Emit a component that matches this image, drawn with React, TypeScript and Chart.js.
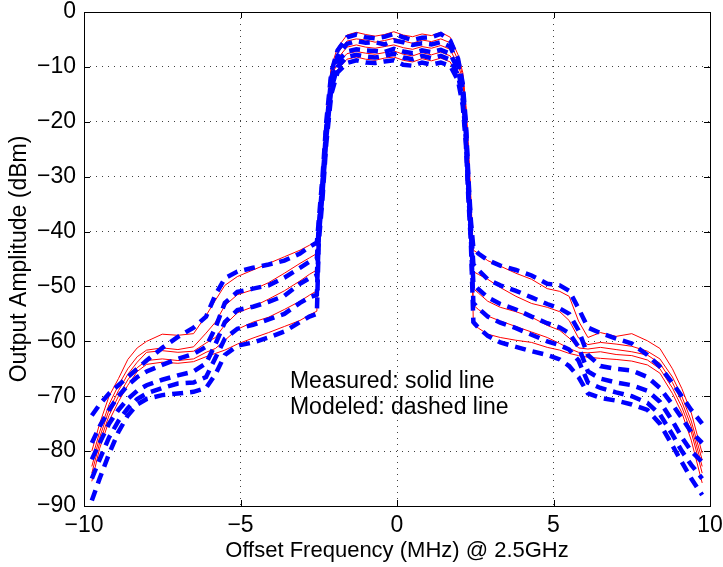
import React, { useEffect, useRef } from 'react';
import { Chart, registerables } from 'chart.js';

Chart.register(...registerables);

// Offset frequency samples (MHz)
const FREQ = [
  -9.75, -9.5, -9.2, -8.9, -8.6, -8.3, -8.0, -7.5, -7.0, -6.5,
  -6.1, -5.8, -5.5, -5.1, -4.6, -4.1, -3.6, -3.1, -2.8, -2.56,
  -2.5, -2.38, -2.26, -2.1,
  -1.9, -1.6, -1.3, -1.0, -0.7, -0.4, -0.1, 0.2, 0.5, 0.8, 1.1, 1.4, 1.7, 1.95,
  2.1, 2.2, 2.28, 2.36, 2.44,
  2.6, 2.9, 3.3, 3.8, 4.3, 4.8, 5.2, 5.5, 5.8, 6.1,
  6.5, 7.0, 7.5, 8.0, 8.4, 8.8, 9.1, 9.4, 9.75,
];

// Modeled (dashed) output amplitude, dBm
const MODEL_1 = [
  -73.5, -71.5, -69.5, -68, -66.5, -65, -63.5, -61.2, -59.2, -57.5,
  -55.5, -51.5, -48.5, -47.3, -46.6, -46, -45.3, -44, -42.8, -42,
  -38, -30, -20, -11,
  -7.0, -4.6, -4.1, -4.6, -4.8, -4.5, -4.0, -4.6, -5.1, -4.7, -4.6, -4.0, -5.2, -8.5,
  -13, -20, -30, -38, -43,
  -44, -45.2, -46.2, -47, -48, -49.5, -49.8, -50.8, -54, -57.5,
  -58.5, -59.5, -60.4, -62.5, -64.6, -67.6, -70, -72.5, -75,
];
const MODEL_2 = [
  -78.5, -75.5, -72.5, -70, -68, -66.5, -65.5, -64.3, -63.2, -62.3,
  -61, -57.5, -53, -51, -50.4, -49.8, -48.4, -46.6, -45.5, -45,
  -39, -31, -21, -12,
  -8.0, -5.8, -5.3, -5.6, -5.5, -5.9, -5.2, -5.5, -6.0, -5.7, -5.9, -5.5, -6.3, -9.5,
  -14, -21, -31, -39, -46,
  -47, -48.7, -49.8, -50.8, -52, -53.2, -54, -55, -58, -62.5,
  -64.5, -65, -65.3, -66.5, -68.5, -71.5, -74, -76.5, -78.5,
];
const MODEL_3 = [
  -81.5, -78.5, -75, -72.5, -70.5, -69, -68, -67, -66.2, -65.5,
  -64, -60.5, -56.5, -54.3, -53.7, -52.8, -51.7, -49.5, -48.5, -48,
  -40, -32, -22, -13,
  -9.0, -7.2, -6.8, -7.0, -7.1, -7.3, -6.7, -7.2, -7.5, -7.0, -7.3, -6.9, -7.6, -10.5,
  -15, -22, -32, -40, -49.5,
  -50.5, -52, -53.2, -54.2, -55.5, -56.7, -57.5, -58.5, -61, -65.5,
  -66.8, -67.5, -68, -69, -71, -74.5, -77.5, -80, -82,
];
const MODEL_4 = [
  -85, -81.5, -77.5, -74.5, -72.2, -70.5, -69.5, -68.5, -67.7, -67.5,
  -66.5, -63, -59.5, -57.7, -57, -56, -55, -53, -52, -51.5,
  -41, -33, -23, -14,
  -10.0, -8.2, -7.8, -8.1, -8.3, -8.0, -7.6, -8.3, -8.6, -8.0, -8.4, -8.0, -8.7, -11.5,
  -16, -23, -33, -41, -53,
  -54, -55.5, -56.6, -57.6, -58.8, -60, -60.7, -61.5, -63.5, -67.5,
  -68.5, -69.3, -70, -71.2, -73.3, -77, -80, -82.5, -85,
];
const MODEL_5 = [
  -89, -85, -80.5, -76.5, -73.5, -71.5, -70.5, -69.8, -69.5, -69.2,
  -68.5, -66, -62.5, -60.8, -60.2, -59.3, -58.2, -56.5, -55.5, -55,
  -42, -34, -24, -15,
  -11.0, -9.3, -8.8, -9.2, -9.3, -9.0, -8.8, -9.6, -9.8, -9.2, -9.6, -9.2, -9.8, -12.5,
  -17, -24, -34, -42, -56.5,
  -57.5, -59, -60.2, -61, -61.8, -62.5, -63.3, -64.5, -66.5, -69.5,
  -70.3, -70.8, -71.5, -72.5, -75, -79, -82, -85, -88,
];

// Measured (solid) output amplitude, dBm
const MEAS_1 = [
  -80, -75, -70, -66.8, -63.3, -61.2, -60, -58.7, -58.9, -58.6,
  -55.3, -52.5, -49.8, -48.2, -47, -45.8, -44.6, -43.4, -42.5, -41.8,
  -39, -29, -18.5, -10,
  -6.5, -4.2, -3.7, -4.1, -4.4, -4.1, -3.6, -4.2, -4.5, -4.0, -4.3, -3.7, -4.6, -7.8,
  -11, -17, -25, -34, -43.4,
  -44, -45.3, -46.3, -47.6, -48.7, -50.4, -50.9, -51.8, -56.3, -59.3,
  -58.4, -59.1, -58.6, -59.9, -61.3, -65, -68.6, -73, -80.4,
];
const MEAS_2 = [
  -81.5, -76.5, -71.5, -68, -65, -62.8, -61.6, -61.2, -61.5, -61,
  -58.5, -56.5, -53.5, -51.5, -50.6, -49.3, -47.6, -45.8, -44.8, -44,
  -39.5, -29.5, -19, -10.5,
  -7.5, -5.3, -4.9, -5.1, -5.5, -5.2, -4.8, -5.3, -5.7, -5.1, -5.4, -4.9, -5.6, -8.8,
  -11.5, -17.5, -25.5, -34.5, -47.3,
  -47.8, -48.7, -50.2, -51.8, -53.1, -53.8, -54.6, -56.2, -59.4, -60.6,
  -60.2, -60.5, -60.9, -61.8, -63.2, -66.5, -70, -74.5, -81.6,
];
const MEAS_3 = [
  -82.8, -77.5, -72.5, -69, -66, -63.8, -62, -61.7, -62, -61.8,
  -60.3, -59.3, -57, -54.8, -53.7, -52.3, -50.8, -49, -47.8, -47,
  -40, -30, -19.5, -11,
  -8.5, -6.4, -6.0, -6.4, -6.6, -6.3, -6.0, -6.5, -6.8, -6.3, -6.6, -6.1, -6.8, -9.8,
  -12, -18, -26, -35, -50.4,
  -51.2, -52.7, -53.8, -54.6, -55.6, -57.1, -58, -59.4, -61.2, -61.4,
  -61.1, -61.5, -61.9, -62.5, -64, -67.5, -71, -75.5, -82.8,
];
const MEAS_4 = [
  -84, -78.5, -73.5, -70, -67, -64.8, -63.5, -63.2, -63.5, -63.2,
  -62, -61.3, -59.8, -57.8, -56.5, -55.6, -54.2, -52.7, -51.6, -50.8,
  -40.5, -30.5, -20, -11.5,
  -9.5, -7.6, -7.2, -7.5, -7.7, -7.4, -7.1, -7.7, -8.0, -7.4, -7.8, -7.3, -8.0, -10.8,
  -12.5, -18.5, -26.5, -35.5, -53.4,
  -54.2, -55.4, -56.3, -57.3, -58.3, -59.3, -60.4, -61.3, -62, -62.1,
  -61.9, -62.4, -62.6, -63.4, -65, -68.5, -72, -76.5, -84,
];
const MEAS_5 = [
  -85.5, -79.5, -74.5, -71, -68, -65.5, -64.2, -63.8, -64, -63.7,
  -62.8, -62.2, -61.6, -60.5, -59.4, -58.4, -57.3, -56.2, -55.2, -54.5,
  -41, -31, -20.5, -12,
  -10.5, -8.6, -8.2, -8.6, -8.8, -8.4, -8.2, -8.8, -9.1, -8.5, -8.9, -8.4, -9.1, -11.8,
  -13, -19, -27, -36, -57,
  -57.6, -58.7, -59.3, -59.8, -60.2, -61.1, -61.6, -62.2, -62.6, -62.9,
  -63.1, -63.3, -63.6, -64.3, -65.8, -69.5, -73, -78, -85.8,
];

const X_TICKS = [-10, -5, 0, 5, 10];
const Y_TICKS = [0, -10, -20, -30, -40, -50, -60, -70, -80, -90];
const X_TITLE = 'Offset Frequency (MHz) @ 2.5GHz';
const Y_TITLE = 'Output Amplitude (dBm)';
const NOTE_LINES = ['Measured: solid line', 'Modeled: dashed line'];
const NOTE_POS = [{ x: -3.42, y: -67.4 }, { x: -3.42, y: -72.1 }];

const FONT_FAMILY = '"Liberation Sans", Arial, Helvetica, sans-serif';
const TICK_SIZE = 23;
const TITLE_SIZE = 22;
const NOTE_SIZE = 23;

const fmt = (v: number) => (v < 0 ? '\u2212' + Math.abs(v) : String(v));

const decorPlugin = {
  id: 'decor',
  afterDraw(chart: any) {
    const { ctx, chartArea, scales } = chart;
    const { left, right, top, bottom } = chartArea;
    const xs = scales.x;
    const ys = scales.y;
    ctx.save();
    ctx.strokeStyle = '#000';
    ctx.lineWidth = 1;
    ctx.setLineDash([]);
    ctx.beginPath();
    const L = 6;
    X_TICKS.forEach((v) => {
      const px = Math.round(xs.getPixelForValue(v)) + 0.5;
      ctx.moveTo(px, bottom);
      ctx.lineTo(px, bottom - L);
      ctx.moveTo(px, top);
      ctx.lineTo(px, top + L);
    });
    Y_TICKS.forEach((v) => {
      const py = Math.round(ys.getPixelForValue(v)) + 0.5;
      ctx.moveTo(left, py);
      ctx.lineTo(left + L, py);
      ctx.moveTo(right, py);
      ctx.lineTo(right - L, py);
    });
    ctx.stroke();
    ctx.strokeRect(Math.round(left) + 0.5, Math.round(top) + 0.5, Math.round(right - left), Math.round(bottom - top));

    ctx.fillStyle = '#000';
    // axis titles
    ctx.textAlign = 'center';
    ctx.textBaseline = 'middle';
    ctx.font = `${TITLE_SIZE}px ${FONT_FAMILY}`;
    ctx.fillText(X_TITLE, (left + right) / 2, 551);
    ctx.save();
    ctx.font = `${TICK_SIZE}px ${FONT_FAMILY}`;
    ctx.translate(20, (top + bottom) / 2);
    ctx.rotate(-Math.PI / 2);
    ctx.fillText(Y_TITLE, 0, 0);
    ctx.restore();
    // annotation
    ctx.font = `${NOTE_SIZE}px ${FONT_FAMILY}`;
    ctx.textAlign = 'left';
    NOTE_LINES.forEach((t, i) => {
      ctx.fillText(t, xs.getPixelForValue(NOTE_POS[i].x), ys.getPixelForValue(NOTE_POS[i].y));
    });
    ctx.restore();
  },
};

export default function App() {
  const ref = useRef<HTMLCanvasElement>(null);
  useEffect(() => {
    document.body.style.margin = '0';
    const pts = (ys: number[]) => FREQ.map((x, i) => ({ x, y: ys[i] }));
    const model = [MODEL_1, MODEL_2, MODEL_3, MODEL_4, MODEL_5].map((d, i) => ({
      label: `Modeled ${i + 1}`,
      data: pts(d),
      borderColor: '#0000ff',
      borderWidth: 4.5,
      borderDash: [11, 7],
      borderCapStyle: 'butt' as const,
      pointRadius: 0,
      fill: false,
      tension: 0,
    }));
    const meas = [MEAS_1, MEAS_2, MEAS_3, MEAS_4, MEAS_5].map((d, i) => ({
      label: `Measured ${i + 1}`,
      data: pts(d),
      borderColor: '#ff0000',
      borderWidth: 1,
      pointRadius: 0,
      fill: false,
      tension: 0,
    }));
    const chart = new Chart(ref.current as HTMLCanvasElement, {
      type: 'line',
      data: { datasets: [...model, ...meas] as any },
      options: {
        animation: false,
        responsive: false,
        devicePixelRatio: 1,
        layout: { padding: { top: 12, right: 13, left: 0, bottom: 0 } },
        plugins: { legend: { display: false }, tooltip: { enabled: false } },
        scales: {
          x: {
            type: 'linear',
            min: -10,
            max: 10,
            afterBuildTicks: (s: any) => {
              s.ticks = X_TICKS.map((v) => ({ value: v }));
            },
            afterFit: (s: any) => {
              s.height = 61;
              s.paddingLeft = 0;
              s.paddingRight = 0;
            },
            grid: { display: true, drawTicks: false, color: 'rgba(0,0,0,0.75)', lineWidth: 1 },
            border: { display: false, dash: [1, 5] },
            ticks: {
              padding: 6,
              color: '#000',
              font: { size: TICK_SIZE, family: FONT_FAMILY },
              maxRotation: 0,
              callback: (v: any) => fmt(Number(v)),
            },
          },
          y: {
            type: 'linear',
            min: -90,
            max: 0,
            afterBuildTicks: (s: any) => {
              s.ticks = Y_TICKS.map((v) => ({ value: v }));
            },
            afterFit: (s: any) => {
              s.width = 84;
              s.paddingTop = 0;
              s.paddingBottom = 0;
            },
            grid: { display: true, drawTicks: false, color: 'rgba(0,0,0,0.75)', lineWidth: 1 },
            border: { display: false, dash: [1, 5] },
            ticks: {
              padding: 8,
              color: '#000',
              font: { size: TICK_SIZE, family: FONT_FAMILY },
              callback: (v: any) => fmt(Number(v)),
            },
          },
        },
      },
      plugins: [decorPlugin],
    });
    return () => chart.destroy();
  }, []);
  return (
    <div style={{ width: 723, height: 567 }}>
      <canvas ref={ref} width={723} height={567} style={{ display: 'block' }} />
    </div>
  );
}
